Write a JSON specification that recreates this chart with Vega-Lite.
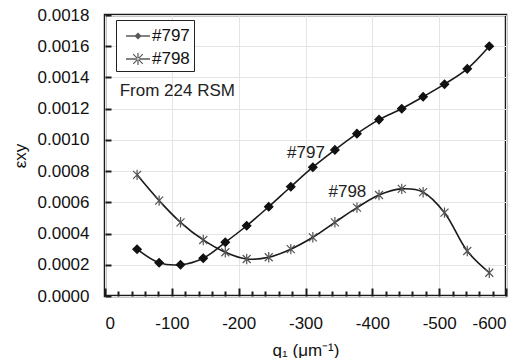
{
  "$schema": "https://vega.github.io/schema/vega-lite/v6.json",
  "width": 401,
  "height": 281,
  "autosize": {"type": "none"},
  "padding": {"left": 105, "top": 15, "right": 18, "bottom": 62},
  "background": "white",
  "config": {
    "font": "Liberation Sans",
    "view": {"stroke": "#1a1a1a", "strokeWidth": 2.5},
    "axis": {
      "domain": false,
      "grid": true,
      "gridColor": "#e4e4e4",
      "gridWidth": 1,
      "tickColor": "#1a1a1a",
      "tickWidth": 2,
      "labelFontSize": 17,
      "labelColor": "#111",
      "labelOverlap": false,
      "titleFontSize": 17,
      "titleFontWeight": "normal",
      "titleColor": "#111"
    }
  },
  "datasets": {
    "main": [
      {"series": "#797", "q": -48, "eps": 0.000300},
      {"series": "#797", "q": -81, "eps": 0.000213},
      {"series": "#797", "q": -113, "eps": 0.000200},
      {"series": "#797", "q": -147, "eps": 0.000242},
      {"series": "#797", "q": -180, "eps": 0.000344},
      {"series": "#797", "q": -212, "eps": 0.000450},
      {"series": "#797", "q": -245, "eps": 0.000572},
      {"series": "#797", "q": -278, "eps": 0.000700},
      {"series": "#797", "q": -311, "eps": 0.000825},
      {"series": "#797", "q": -344, "eps": 0.000936},
      {"series": "#797", "q": -377, "eps": 0.001040},
      {"series": "#797", "q": -410, "eps": 0.001130},
      {"series": "#797", "q": -444, "eps": 0.001200},
      {"series": "#797", "q": -476, "eps": 0.001276},
      {"series": "#797", "q": -508, "eps": 0.001357},
      {"series": "#797", "q": -542, "eps": 0.001455},
      {"series": "#797", "q": -575, "eps": 0.001600},
      {"series": "#798", "q": -48, "eps": 0.000776},
      {"series": "#798", "q": -81, "eps": 0.000611},
      {"series": "#798", "q": -113, "eps": 0.000472},
      {"series": "#798", "q": -147, "eps": 0.000359},
      {"series": "#798", "q": -180, "eps": 0.000280},
      {"series": "#798", "q": -212, "eps": 0.000237},
      {"series": "#798", "q": -245, "eps": 0.000248},
      {"series": "#798", "q": -278, "eps": 0.000300},
      {"series": "#798", "q": -311, "eps": 0.000376},
      {"series": "#798", "q": -344, "eps": 0.000472},
      {"series": "#798", "q": -377, "eps": 0.000566},
      {"series": "#798", "q": -410, "eps": 0.000647},
      {"series": "#798", "q": -444, "eps": 0.000686},
      {"series": "#798", "q": -476, "eps": 0.000665},
      {"series": "#798", "q": -508, "eps": 0.000534},
      {"series": "#798", "q": -542, "eps": 0.000288},
      {"series": "#798", "q": -575, "eps": 0.000149}
    ],
    "notesLeft": [
      {"label": "From 224 RSM", "q": -22, "eps": 0.00131}
    ],
    "notesRight": [
      {"label": "#797", "q": -329, "eps": 0.000917},
      {"label": "#798", "q": -391, "eps": 0.000669}
    ]
  },
  "layer": [
    {
      "data": {"name": "main"},
      "mark": {"type": "line", "interpolate": "catmull-rom", "color": "#1a1a1a", "strokeWidth": 1.6},
      "encoding": {
        "x": {
          "field": "q", "type": "quantitative",
          "scale": {"domain": [-600, 0], "reverse": true, "nice": false, "zero": false},
          "axis": {
            "values": [0, -20, -40, -60, -80, -100, -120, -140, -160, -180, -200, -220, -240, -260, -280, -300, -320, -340, -360, -380, -400, -420, -440, -460, -480, -500, -520, -540, -560, -580, -600],
            "tickCount": 200,
            "labelExpr": "datum.value % 100 === 0 ? toString(datum.value) : ''",
            "tickSize": {"condition": {"test": "datum.value % 100 === 0", "value": -8}, "value": -5},
            "gridOpacity": {"condition": {"test": "datum.value % 100 === 0", "value": 1}, "value": 0},
            "labelPadding": 27,
            "title": "q₁ (μm⁻¹)",
            "titlePadding": 8
          }
        },
        "y": {
          "field": "eps", "type": "quantitative",
          "scale": {"domain": [0, 0.0018], "nice": false},
          "axis": {
            "values": [0, 0.0002, 0.0004, 0.0006, 0.0008, 0.001, 0.0012, 0.0014, 0.0016, 0.0018],
            "tickCount": 10,
            "format": ".4f",
            "tickSize": -6,
            "labelPadding": 22,
            "title": "εxy",
            "titlePadding": 8
          }
        },
        "detail": {"field": "series", "type": "nominal"}
      }
    },
    {
      "data": {"name": "main"},
      "mark": {"type": "point", "filled": true, "fill": "#111", "strokeWidth": 1.2, "opacity": 1},
      "encoding": {
        "x": {"field": "q", "type": "quantitative"},
        "y": {"field": "eps", "type": "quantitative"},
        "shape": {
          "field": "series", "type": "nominal",
          "scale": {"domain": ["#797", "#798"], "range": ["diamond", "M-1,-1L1,1M-1,1L1,-1M0,-1.3L0,1.3"]},
          "legend": null
        },
        "stroke": {
          "field": "series", "type": "nominal",
          "scale": {"domain": ["#797", "#798"], "range": ["#111", "#555"]},
          "legend": null
        },
        "size": {
          "field": "series", "type": "nominal",
          "scale": {"domain": ["#797", "#798"], "range": [70, 64]},
          "legend": null
        }
      }
    },
    {
      "data": {"name": "main"},
      "transform": [{"filter": "datum.q > 0"}],
      "mark": {"type": "point", "filled": true, "fill": "#111", "stroke": "#111", "strokeWidth": 1.5},
      "encoding": {
        "x": {"field": "q", "type": "quantitative"},
        "y": {"field": "eps", "type": "quantitative"},
        "shape": {
          "field": "series", "type": "nominal",
          "scale": {"domain": ["#797", "#798"], "range": [
            "M-1,-0.06L1,-0.06L1,0.06L-1,0.06ZM-0.3,0L0,-0.3L0.3,0L0,0.3Z",
            "M-1,-0.06L1,-0.06L1,0.06L-1,0.06ZM-0.435,-0.365L0.365,0.435L0.435,0.365L-0.365,-0.435ZM-0.435,0.365L-0.365,0.435L0.435,-0.365L0.365,-0.435ZM-0.05,-0.5L0.05,-0.5L0.05,0.5L-0.05,0.5Z"
          ]},
          "legend": {
            "title": null,
            "orient": "none",
            "legendX": 11,
            "legendY": 5,
            "padding": 4,
            "symbolOffset": 6,
            "strokeColor": "#222",
            "fillColor": "white",
            "symbolSize": 576,
            "symbolFillColor": "#111",
            "symbolStrokeWidth": 0,
            "labelFontSize": 17,
            "labelColor": "#111",
            "labelOffset": 2,
            "rowPadding": 3
          }
        }
      }
    },
    {
      "data": {"name": "notesLeft"},
      "mark": {"type": "text", "align": "left", "baseline": "middle", "fontSize": 17, "color": "#222"},
      "encoding": {
        "x": {"field": "q", "type": "quantitative"},
        "y": {"field": "eps", "type": "quantitative"},
        "text": {"field": "label"}
      }
    },
    {
      "data": {"name": "notesRight"},
      "mark": {"type": "text", "align": "right", "baseline": "middle", "fontSize": 17, "color": "#222"},
      "encoding": {
        "x": {"field": "q", "type": "quantitative"},
        "y": {"field": "eps", "type": "quantitative"},
        "text": {"field": "label"}
      }
    }
  ],
  "resolve": {"scale": {"shape": "independent"}}
}
